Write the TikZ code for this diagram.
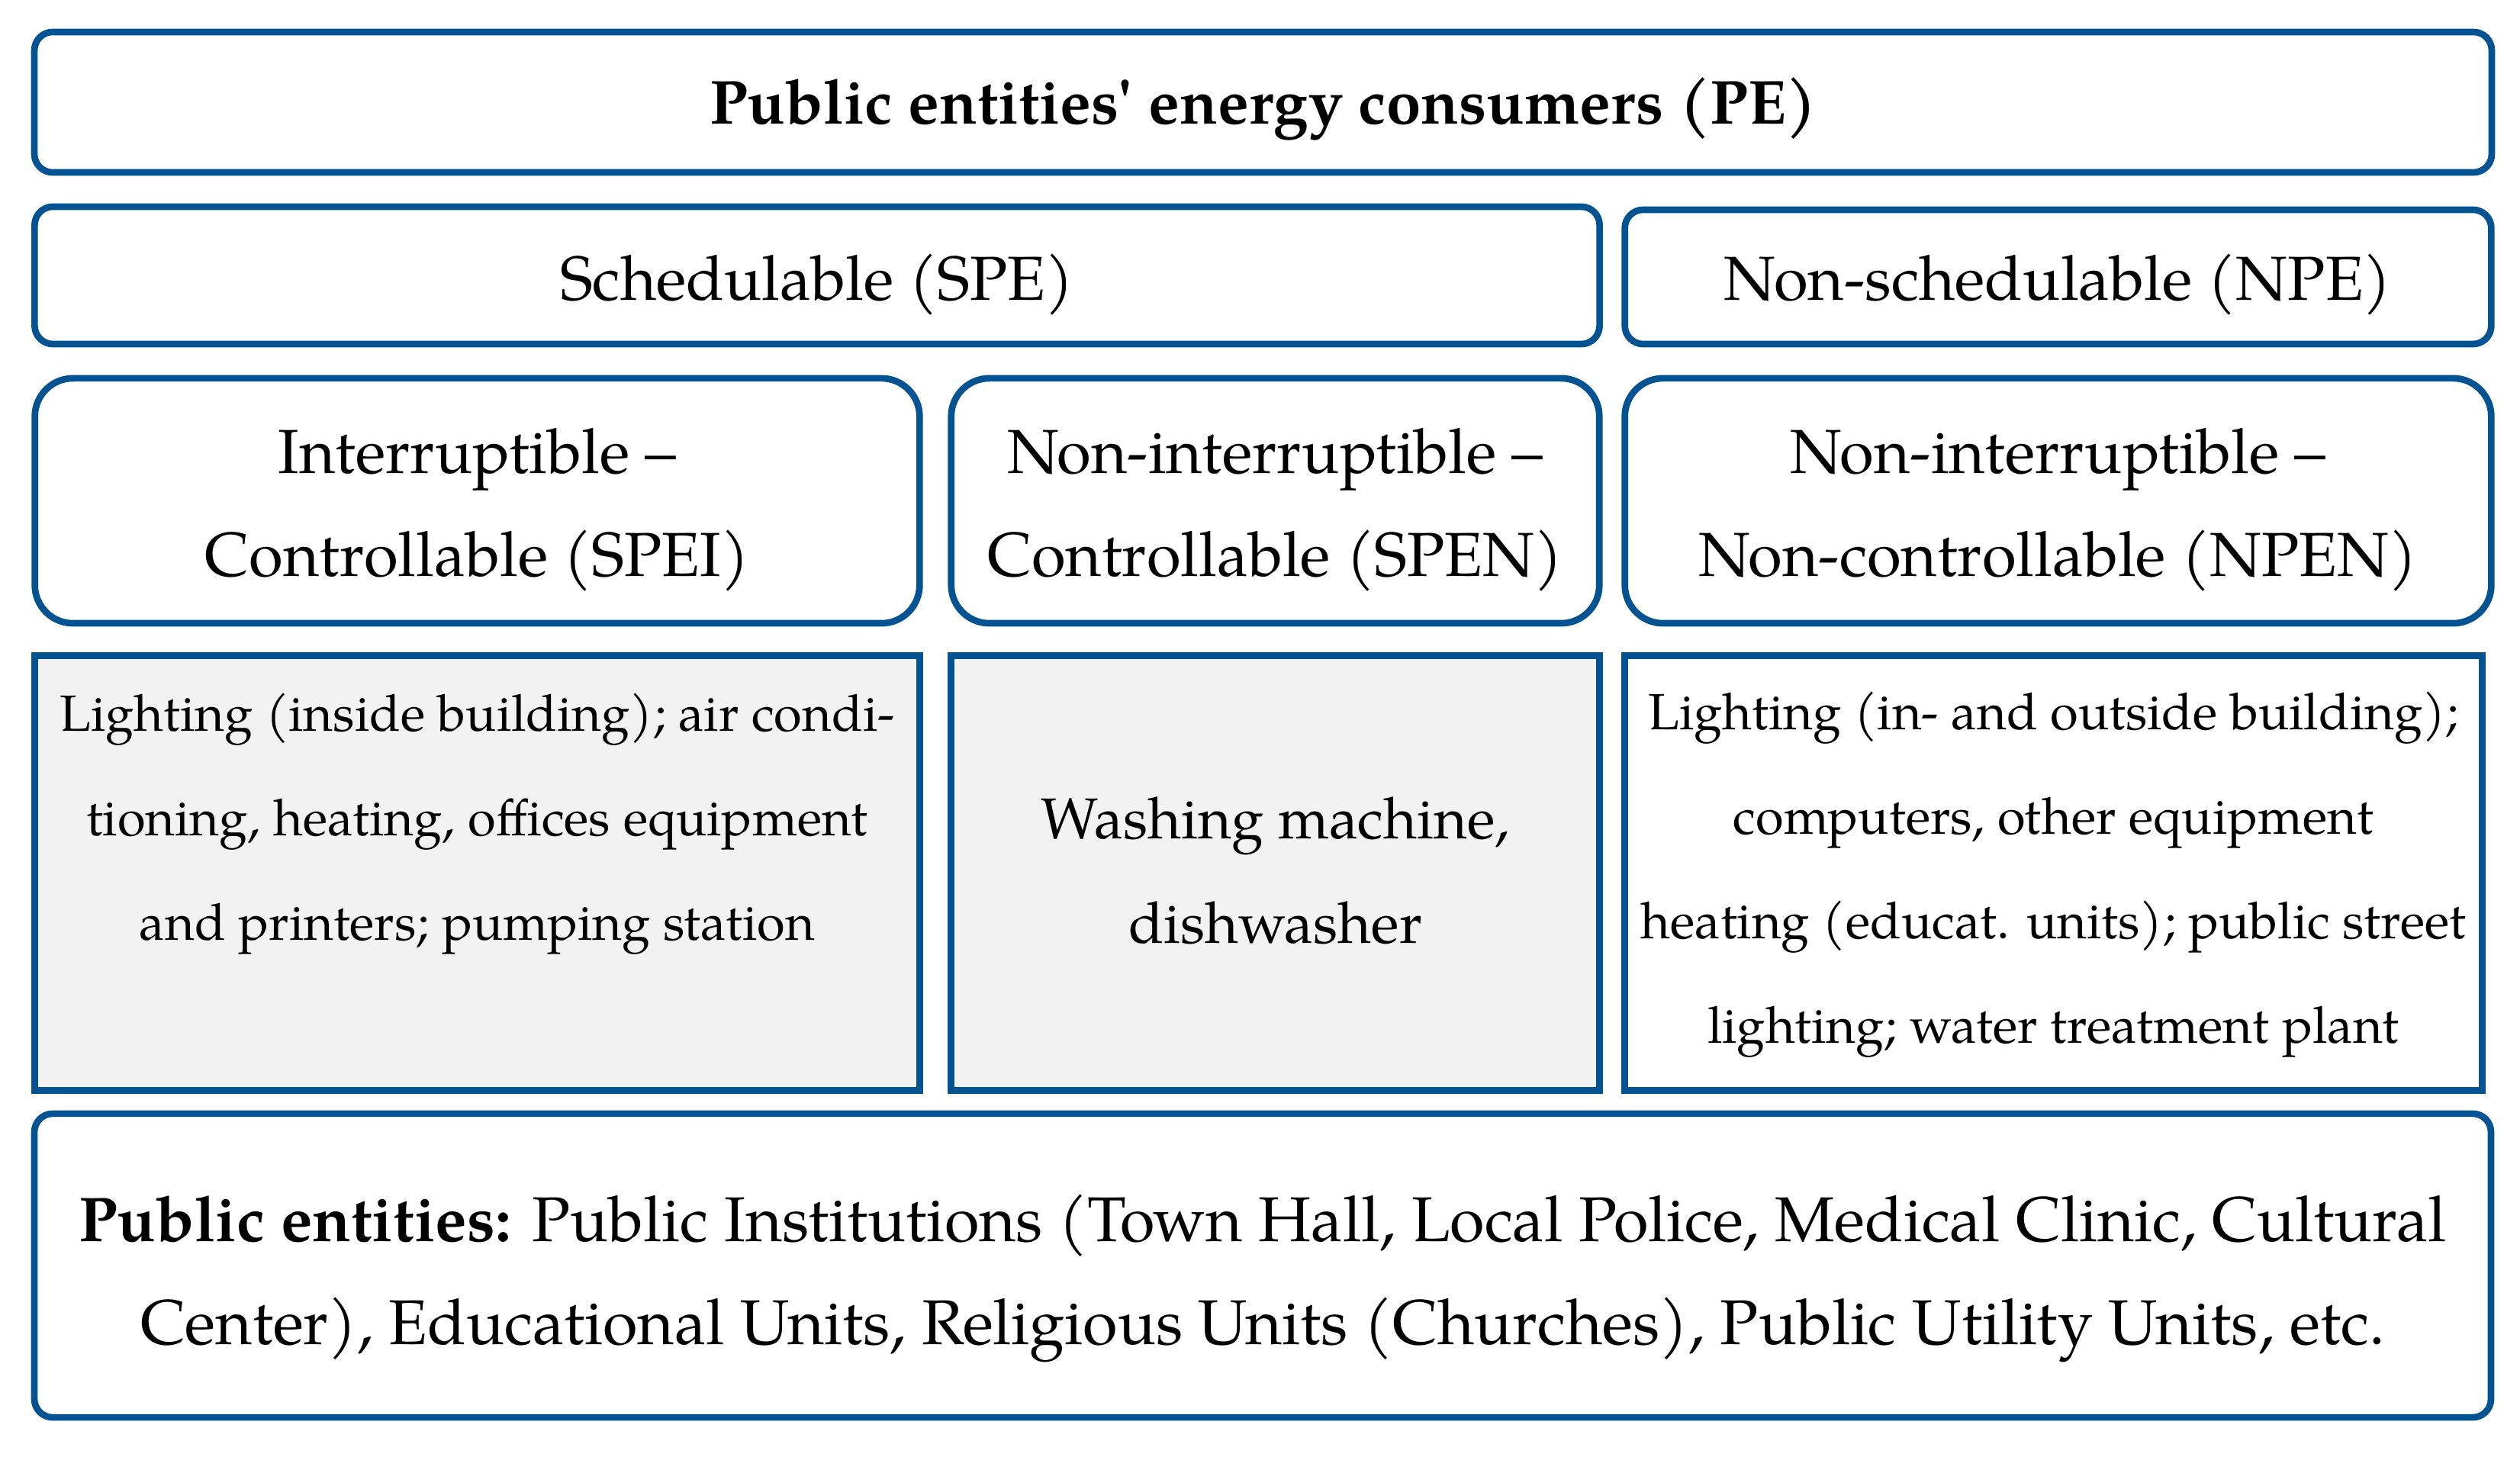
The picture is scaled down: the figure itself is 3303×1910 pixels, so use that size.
\documentclass[tikz,border=0pt]{standalone}
\usepackage{fontspec}
\setmainfont{TeX Gyre Pagella}
\definecolor{boxblue}{RGB}{3,82,145}
\definecolor{boxgray}{RGB}{242,242,242}
\tikzset{
  frame/.style={draw=boxblue, line width=2.47pt, inner sep=0pt},
  roundsmall/.style={frame, rounded corners=0.24cm},
  roundbig/.style={frame, rounded corners=0.50cm},
  sqbox/.style={frame, rounded corners=0pt},
  txt/.style={inner sep=0pt, align=center, text=black},
  titlefont/.style={txt, font=\fontsize{23.2pt}{38.4pt}\selectfont\bfseries},
  midfont/.style={txt, font=\fontsize{23.2pt}{38.4pt}\selectfont},
  bigfont/.style={txt, font=\fontsize{23.2pt}{38.4pt}\selectfont},
  botfont/.style={txt, font=\fontsize{23.6pt}{38.4pt}\selectfont},
  smallfont/.style={txt, font=\fontsize{19pt}{38.9pt}\selectfont},
  washfont/.style={txt, font=\fontsize{21.5pt}{38.9pt}\selectfont},
}
\begin{document}
\begin{tikzpicture}[x=0.01cm, y=-0.01cm]
\useasboundingbox (0,0) rectangle (3303,1910);
% boxes
\node[roundsmall, minimum width=32.19cm, minimum height=1.84cm] (pe) at (1655.5,134) {};
\node[roundsmall, minimum width=20.50cm, minimum height=1.80cm] (spe) at (1071,361) {};
\node[roundsmall, minimum width=11.35cm, minimum height=1.76cm] (npe) at (2697.5,363) {};
\node[roundbig, minimum width=11.59cm, minimum height=3.21cm] (spei) at (625.5,656.5) {};
\node[roundbig, minimum width=8.49cm, minimum height=3.21cm] (spen) at (1671.5,656.5) {};
\node[roundbig, minimum width=11.35cm, minimum height=3.21cm] (npen) at (2697.5,656.5) {};
\node[sqbox, fill=boxgray, minimum width=11.59cm, minimum height=5.69cm] (c1) at (625.5,1144.5) {};
\node[sqbox, fill=boxgray, minimum width=8.49cm, minimum height=5.69cm] (c2) at (1671.5,1144.5) {};
\node[sqbox, fill=white, minimum width=11.23cm, minimum height=5.69cm] (c3) at (2691.5,1144.5) {};
\node[roundsmall, minimum width=32.18cm, minimum height=3.98cm] (pub) at (1655,1659) {};
% texts
\node[titlefont] (pe-t) at (1655.5,142.4) {Public entities\textquotesingle{} energy consumers (PE)};
\node[midfont] (spe-t) at (1071,373.6) {Schedulable (SPE)};
\node[midfont] (npe-t) at (2697.5,373.5) {Non-schedulable (NPE)};
\node[bigfont] (spei-t) at (625.5,668) {Interruptible –\\Controllable (SPEI)};
\node[bigfont] (spen-t) at (1671.5,668) {Non-interruptible –\\Controllable (SPEN)};
\node[bigfont] (npen-t) at (2697.5,668) {Non-interruptible –\\Non-controllable (NPEN)};
\node[smallfont] (c1-t) at (625.5,1080)
  {Lighting (inside building); air condi-\\\makebox[10.24cm][s]{tioning, heating, offices equipment}\\and printers; pumping station};
\node[washfont] (c2-t) at (1671.5,1141) {Washing machine,\\dishwasher};
\node[smallfont] (c3-t) at (2691.5,1146.6)
  {Lighting (in- and outside building);\\computers, other equipment\\heating (educat. units); public street\\lighting; water treatment plant};
\node[botfont] (pub-t) at (1655,1676)
  {\textbf{Public entities:} Public Institutions (Town Hall, Local Police, Medical Clinic, Cultural\\Center), Educational Units, Religious Units (Churches), Public Utility Units, etc.};
\end{tikzpicture}
\end{document}
